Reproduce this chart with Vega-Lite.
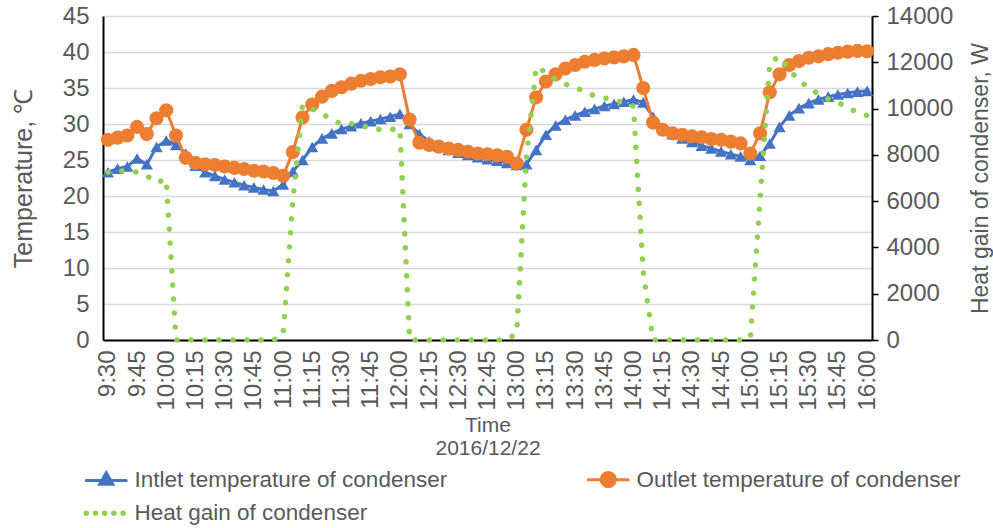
{
  "$schema": "https://vega.github.io/schema/vega-lite/v6.json",
  "width": 769,
  "height": 324,
  "autosize": {"type": "none"},
  "padding": {"left": 103, "top": 16, "right": 121, "bottom": 188},
  "background": "white",
  "config": {
    "font": "Liberation Sans",
    "view": {"stroke": null}
  },
  "data": {
    "values": [
      {"t": "9:30", "a": 23.3, "b": 27.8, "h": 7250},
      {"t": "9:35", "a": 23.8, "b": 28.1, "h": 7300},
      {"t": "9:40", "a": 24.1, "b": 28.4, "h": 7300},
      {"t": "9:45", "a": 25.2, "b": 29.6, "h": 7250},
      {"t": "9:50", "a": 24.4, "b": 28.6, "h": 7100},
      {"t": "9:55", "a": 26.8, "b": 30.8, "h": 6800},
      {"t": "10:00", "a": 27.7, "b": 31.9, "h": 6950},
      {"t": "10:05", "a": 27.1, "b": 28.4, "h": 0},
      {"t": "10:10", "a": 25.9, "b": 25.3, "h": 0},
      {"t": "10:15", "a": 24.2, "b": 24.6, "h": 0},
      {"t": "10:20", "a": 23.3, "b": 24.4, "h": 0},
      {"t": "10:25", "a": 22.8, "b": 24.3, "h": 0},
      {"t": "10:30", "a": 22.3, "b": 24.1, "h": 0},
      {"t": "10:35", "a": 21.9, "b": 23.9, "h": 0},
      {"t": "10:40", "a": 21.5, "b": 23.75, "h": 0},
      {"t": "10:45", "a": 21.2, "b": 23.5, "h": 0},
      {"t": "10:50", "a": 20.9, "b": 23.4, "h": 0},
      {"t": "10:55", "a": 20.7, "b": 23.2, "h": 0},
      {"t": "11:00", "a": 21.6, "b": 22.8, "h": 200},
      {"t": "11:05", "a": 23.4, "b": 26.1, "h": 6000},
      {"t": "11:10", "a": 25.0, "b": 30.9, "h": 10150},
      {"t": "11:15", "a": 26.8, "b": 32.7, "h": 9980},
      {"t": "11:20", "a": 28.0, "b": 33.8, "h": 9780},
      {"t": "11:25", "a": 28.7, "b": 34.6, "h": 9520},
      {"t": "11:30", "a": 29.3, "b": 35.1, "h": 9330},
      {"t": "11:35", "a": 29.7, "b": 35.6, "h": 9350},
      {"t": "11:40", "a": 30.1, "b": 36.0, "h": 9300},
      {"t": "11:45", "a": 30.4, "b": 36.25, "h": 9120},
      {"t": "11:50", "a": 30.7, "b": 36.5, "h": 9100},
      {"t": "11:55", "a": 31.0, "b": 36.6, "h": 9100},
      {"t": "12:00", "a": 31.4, "b": 36.9, "h": 9120},
      {"t": "12:05", "a": 30.0, "b": 30.6, "h": 0},
      {"t": "12:10", "a": 28.6, "b": 27.4, "h": 0},
      {"t": "12:15", "a": 27.6, "b": 27.1, "h": 0},
      {"t": "12:20", "a": 26.9, "b": 26.85, "h": 0},
      {"t": "12:25", "a": 26.4, "b": 26.6, "h": 0},
      {"t": "12:30", "a": 26.0, "b": 26.4, "h": 0},
      {"t": "12:35", "a": 25.7, "b": 26.15, "h": 0},
      {"t": "12:40", "a": 25.4, "b": 25.9, "h": 0},
      {"t": "12:45", "a": 25.1, "b": 25.8, "h": 0},
      {"t": "12:50", "a": 24.9, "b": 25.65, "h": 0},
      {"t": "12:55", "a": 24.6, "b": 25.45, "h": 0},
      {"t": "13:00", "a": 24.3, "b": 24.5, "h": 300},
      {"t": "13:05", "a": 24.4, "b": 29.2, "h": 7900},
      {"t": "13:10", "a": 26.4, "b": 33.7, "h": 11800},
      {"t": "13:15", "a": 28.5, "b": 35.9, "h": 11580},
      {"t": "13:20", "a": 29.8, "b": 36.9, "h": 11230},
      {"t": "13:25", "a": 30.6, "b": 37.7, "h": 11060},
      {"t": "13:30", "a": 31.2, "b": 38.2, "h": 10890},
      {"t": "13:35", "a": 31.7, "b": 38.65, "h": 10760},
      {"t": "13:40", "a": 32.1, "b": 38.9, "h": 10540},
      {"t": "13:45", "a": 32.5, "b": 39.1, "h": 10460},
      {"t": "13:50", "a": 32.8, "b": 39.25, "h": 10370},
      {"t": "13:55", "a": 33.1, "b": 39.4, "h": 10240},
      {"t": "14:00", "a": 33.4, "b": 39.6, "h": 10110},
      {"t": "14:05", "a": 33.0, "b": 35.0, "h": 2950},
      {"t": "14:10", "a": 31.0, "b": 30.2, "h": 0},
      {"t": "14:15", "a": 29.5, "b": 29.2, "h": 0},
      {"t": "14:20", "a": 28.6, "b": 28.7, "h": 0},
      {"t": "14:25", "a": 28.0, "b": 28.5, "h": 0},
      {"t": "14:30", "a": 27.5, "b": 28.3, "h": 0},
      {"t": "14:35", "a": 27.0, "b": 28.15, "h": 0},
      {"t": "14:40", "a": 26.6, "b": 27.9, "h": 0},
      {"t": "14:45", "a": 26.2, "b": 27.8, "h": 0},
      {"t": "14:50", "a": 25.8, "b": 27.55, "h": 0},
      {"t": "14:55", "a": 25.5, "b": 27.3, "h": 0},
      {"t": "15:00", "a": 25.0, "b": 25.9, "h": 100},
      {"t": "15:05", "a": 25.6, "b": 28.7, "h": 6100},
      {"t": "15:10", "a": 27.3, "b": 34.4, "h": 12000},
      {"t": "15:15", "a": 29.6, "b": 36.9, "h": 12250},
      {"t": "15:20", "a": 31.2, "b": 38.2, "h": 11660},
      {"t": "15:25", "a": 32.2, "b": 38.75, "h": 11230},
      {"t": "15:30", "a": 32.9, "b": 39.2, "h": 10890},
      {"t": "15:35", "a": 33.4, "b": 39.4, "h": 10630},
      {"t": "15:40", "a": 33.8, "b": 39.7, "h": 10410},
      {"t": "15:45", "a": 34.1, "b": 39.9, "h": 10280},
      {"t": "15:50", "a": 34.3, "b": 40.05, "h": 10020},
      {"t": "15:55", "a": 34.5, "b": 40.15, "h": 9850},
      {"t": "16:00", "a": 34.6, "b": 40.1, "h": 9700}
    ]
  },
  "encoding": {
    "x": {
      "field": "t",
      "type": "ordinal",
      "sort": null,
      "scale": {"type": "point", "padding": 0.5},
      "axis": {
        "values": ["9:30","9:45","10:00","10:15","10:30","10:45","11:00","11:15","11:30","11:45","12:00","12:15","12:30","12:45","13:00","13:15","13:30","13:45","14:00","14:15","14:30","14:45","15:00","15:15","15:30","15:45","16:00"],
        "labelAngle": 270,
        "labelFontSize": 24,
        "labelColor": "#595959",
        "labelPadding": 10,
        "ticks": false,
        "grid": false,
        "domainColor": "black",
        "domainWidth": 2,
        "title": ["Time", "2016/12/22"],
        "titleFontSize": 21,
        "titleFontWeight": "normal",
        "titleColor": "#595959",
        "titleLineHeight": 23,
        "titlePadding": 4
      }
    }
  },
  "layer": [
    {
      "layer": [
        {
          "mark": {"type": "line", "strokeWidth": 3},
          "encoding": {
            "y": {"field": "a", "type": "quantitative", "scale": {"domain": [0, 45]},
              "axis": {"values": [0,5,10,15,20,25,30,35,40,45], "grid": true, "gridColor": "#d9d9d9", "gridWidth": 1.5, "ticks": false, "domainColor": "black", "domainWidth": 2, "labelFontSize": 24, "labelColor": "#595959", "labelPadding": 14, "title": "Temperature, ℃", "titleFontSize": 25, "titleFontWeight": "normal", "titleColor": "#595959", "titlePadding": 26}},
            "color": {
              "datum": "Intlet temperature of condenser",
              "scale": {"domain": ["Intlet temperature of condenser", "Heat gain of condenser", "Outlet temperature of condenser"], "range": ["#4472C4", "#92D050", "#ED7D31"]},
              "legend": {
                "orient": "none",
                "legendX": -8,
                "legendY": 452,
                "columns": 2,
                "columnPadding": 134,
                "rowPadding": 9,
                "title": null,
                "labelFontSize": 22.5,
                "labelColor": "#595959",
                "labelLimit": 500,
                "labelOffset": 17,
                "symbolSize": 400,
                "encode": {
                  "symbols": {
                    "update": {
                      "shape": {"signal": "datum.value == 'Intlet temperature of condenser' ? 'M-2,0L2,0M0,-0.75L0.65,0.38L-0.65,0.38Z' : datum.value == 'Outlet temperature of condenser' ? 'M-2,0L2,0M0.7,0A0.7,0.7 0 1 1 -0.7,0A0.7,0.7 0 1 1 0.7,0Z' : 'M-2,0L2,0'"},
                      "strokeDash": {"signal": "datum.value == 'Heat gain of condenser' ? [0.1, 9.1] : [1, 0]"},
                      "strokeWidth": {"signal": "datum.value == 'Heat gain of condenser' ? 5.5 : 3"},
                      "strokeCap": {"value": "round"},
                      "fill": {"scale": "color", "field": "value"},
                      "stroke": {"scale": "color", "field": "value"},
                      "opacity": {"value": 1}
                    }
                  }
                }
              }
            }
          }
        },
        {
          "mark": {"type": "point", "shape": "triangle-up", "filled": true, "size": 150, "color": "#4472C4", "opacity": 1},
          "encoding": {
            "y": {"field": "a", "type": "quantitative", "scale": {"domain": [0, 45]},
              "axis": {"values": [0,5,10,15,20,25,30,35,40,45], "grid": true, "gridColor": "#d9d9d9", "gridWidth": 1.5, "ticks": false, "domainColor": "black", "domainWidth": 2, "labelFontSize": 24, "labelColor": "#595959", "labelPadding": 14, "title": "Temperature, ℃", "titleFontSize": 25, "titleFontWeight": "normal", "titleColor": "#595959", "titlePadding": 26}}
          }
        },
        {
          "mark": {"type": "line", "strokeWidth": 3},
          "encoding": {
            "y": {"field": "b", "type": "quantitative", "scale": {"domain": [0, 45]},
              "axis": {"values": [0,5,10,15,20,25,30,35,40,45], "grid": true, "gridColor": "#d9d9d9", "gridWidth": 1.5, "ticks": false, "domainColor": "black", "domainWidth": 2, "labelFontSize": 24, "labelColor": "#595959", "labelPadding": 14, "title": "Temperature, ℃", "titleFontSize": 25, "titleFontWeight": "normal", "titleColor": "#595959", "titlePadding": 26}},
            "color": {"datum": "Outlet temperature of condenser"}
          }
        },
        {
          "mark": {"type": "point", "shape": "circle", "filled": true, "size": 200, "color": "#ED7D31", "opacity": 1},
          "encoding": {
            "y": {"field": "b", "type": "quantitative", "scale": {"domain": [0, 45]},
              "axis": {"values": [0,5,10,15,20,25,30,35,40,45], "grid": true, "gridColor": "#d9d9d9", "gridWidth": 1.5, "ticks": false, "domainColor": "black", "domainWidth": 2, "labelFontSize": 24, "labelColor": "#595959", "labelPadding": 14, "title": "Temperature, ℃", "titleFontSize": 25, "titleFontWeight": "normal", "titleColor": "#595959", "titlePadding": 26}}
          }
        }
      ]
    },
    {
      "mark": {"type": "line", "strokeWidth": 5.5, "strokeDash": [0.1, 13.9], "strokeCap": "round"},
      "encoding": {
        "y": {"field": "h", "type": "quantitative", "scale": {"domain": [0, 14000]},
          "axis": {"orient": "right", "values": [0,2000,4000,6000,8000,10000,12000,14000], "format": "d", "grid": false, "ticks": true, "tickSize": 6, "tickColor": "black", "tickWidth": 1.5, "domainColor": "black", "domainWidth": 2, "labelFontSize": 24, "labelColor": "#595959", "labelPadding": 8, "title": "Heat gain of condenser, W", "titleAngle": 270, "titleFontSize": 23, "titleFontWeight": "normal", "titleColor": "#595959", "titlePadding": 40}},
        "color": {"datum": "Heat gain of condenser"}
      }
    }
  ],
  "resolve": {"scale": {"y": "independent"}}
}
